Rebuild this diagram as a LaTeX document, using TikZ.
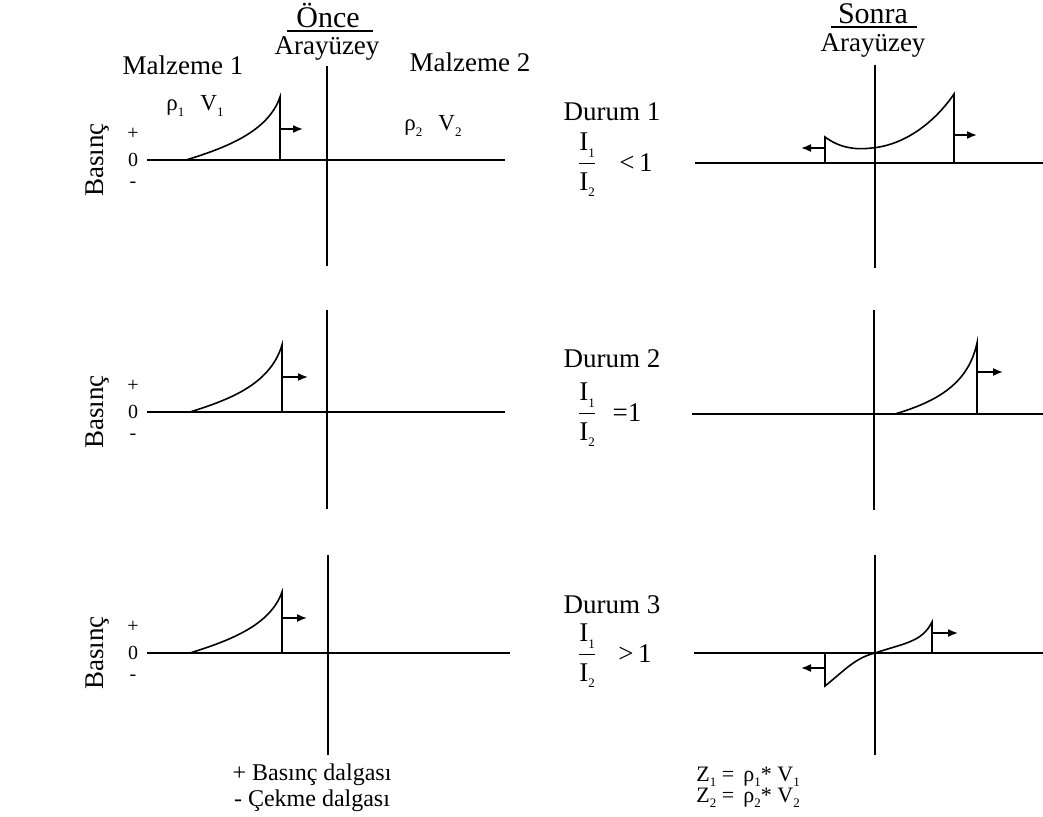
\documentclass[tikz,border=0pt]{standalone}
\usepackage{fontspec}
\setmainfont{Liberation Serif}
\usepackage{tikz}
\usetikzlibrary{arrows.meta}
\newcommand{\lowidx}[1]{\raisebox{-0.55ex}{\fontsize{6.5}{6.5}\selectfont #1}}
\newcommand{\ratio}{$\displaystyle\frac{\hbox{I\lowidx{1}}}{\hbox{I\lowidx{2}}}$}
\tikzset{
  axis/.style={line width=0.9pt},
  wave/.style={line width=0.8pt},
  push/.style={line width=0.8pt,-{Latex[length=5pt,width=4pt]}},
  lbl/.style={font=\fontsize{13.5}{15}\selectfont,inner sep=0pt},
  sml/.style={font=\fontsize{10}{11}\selectfont,inner sep=0pt},
}

\begin{document}
\begin{tikzpicture}[x=0.5pt,y=-0.5pt]
  \useasboundingbox (0,0) rectangle (1043,817);
  % left column: before the interface
  \draw[axis] (147,160)--(505,160); \draw[axis] (327,66)--(327,266);
  \draw[axis] (147,412)--(505,412); \draw[axis] (327,310)--(327,509);
  \draw[axis] (147,653)--(510,653); \draw[axis] (328,555)--(328,755);
  \draw[wave] (186,160) .. controls (225,148) and (268,132) .. (280,97) -- (280,160);
  \draw[wave] (190,412) .. controls (228,400) and (270,385) .. (282,345) -- (282,412);
  \draw[wave] (190,653) .. controls (228,641) and (270,626) .. (282,592) -- (282,653);
  \draw[push] (280,129)--(303,129); \draw[push] (282,377)--(308,377); \draw[push] (282,618)--(307,618);
  \foreach \yy in {160,412,653}{
    \node[sml] at (133,\yy-26) {+}; \node[sml] at (133,\yy) {0}; \node[sml] at (133,\yy+25) {-};
    \node[lbl,rotate=90] at (98,\yy) {Basınç};
  }
  \node[lbl,font=\fontsize{15}{17}\selectfont] (once) at (328,16) {Önce};
  \draw[line width=0.7pt] (287,31)--(373,31);
  \node[lbl] (ara1) at (327,49) {Arayüzey};
  \node[lbl] (mal1) at (183,65) {Malzeme 1};
  \node[lbl] (mal2) at (470,62) {Malzeme 2};
  \node[sml,font=\fontsize{11.5}{13}\selectfont] at (195,106) {ρ\lowidx{1}\hspace{8pt}V\lowidx{1}};
  \node[sml,font=\fontsize{11.5}{13}\selectfont] at (433,126) {ρ\lowidx{2}\hspace{8pt}V\lowidx{2}};
  \node[lbl,font=\fontsize{12}{14}\selectfont,align=center] at (312,788) {+ Basınç dalgası\\[-1pt] - Çekme dalgası};
  % right column: after the interface
  \draw[axis] (695,163)--(1043,163); \draw[axis] (875,65)--(875,268);
  \draw[axis] (692,414)--(1043,414); \draw[axis] (874,310)--(874,510);
  \draw[axis] (694,653)--(1043,653); \draw[axis] (875,555)--(875,755);
  % case 1
  \draw[wave] (825,163)--(825,137) .. controls (840,148) and (855,150) .. (872,148)
    .. controls (905,145) and (935,122) .. (954,94) -- (954,163);
  \draw[push] (825,148)--(801,148); \draw[push] (954,135)--(977,135);
  % case 2
  \draw[wave] (895,414) .. controls (935,402) and (968,385) .. (977,343) -- (977,414);
  \draw[push] (977,372)--(1003,372);
  % case 3
  \draw[wave] (825,653)--(825,686) .. controls (845,670) and (855,658) .. (875,653)
    .. controls (905,643) and (922,642) .. (932,622) -- (932,653);
  \draw[push] (825,668)--(801,668); \draw[push] (932,633)--(958,633);
  \node[lbl,font=\fontsize{15}{17}\selectfont] (sonra) at (873,14) {Sonra};
  \draw[line width=0.7pt] (831,27)--(917,27);
  \node[lbl] (ara2) at (873,46) {Arayüzey};
  \node[lbl] (d1) at (612,112) {Durum 1};
  \node[lbl] (r1) at (587,165) {\ratio}; \node[lbl] at (636,163) {<\,1};
  \node[lbl] (d2) at (612,359) {Durum 2};
  \node[lbl] (r2) at (587,415) {\ratio}; \node[lbl] at (627,413) {=1};
  \node[lbl] (d3) at (612,605) {Durum 3};
  \node[lbl] (r3) at (587,656) {\ratio}; \node[lbl] at (635,654) {>\,1};
  \node[sml,font=\fontsize{11}{12}\selectfont,anchor=west] at (696,777) {Z\lowidx{1} = \,ρ\lowidx{1}* V\lowidx{1}};
  \node[sml,font=\fontsize{11}{12}\selectfont,anchor=west] at (696,798) {Z\lowidx{2} = \,ρ\lowidx{2}* V\lowidx{2}};
\end{tikzpicture}
\end{document}
